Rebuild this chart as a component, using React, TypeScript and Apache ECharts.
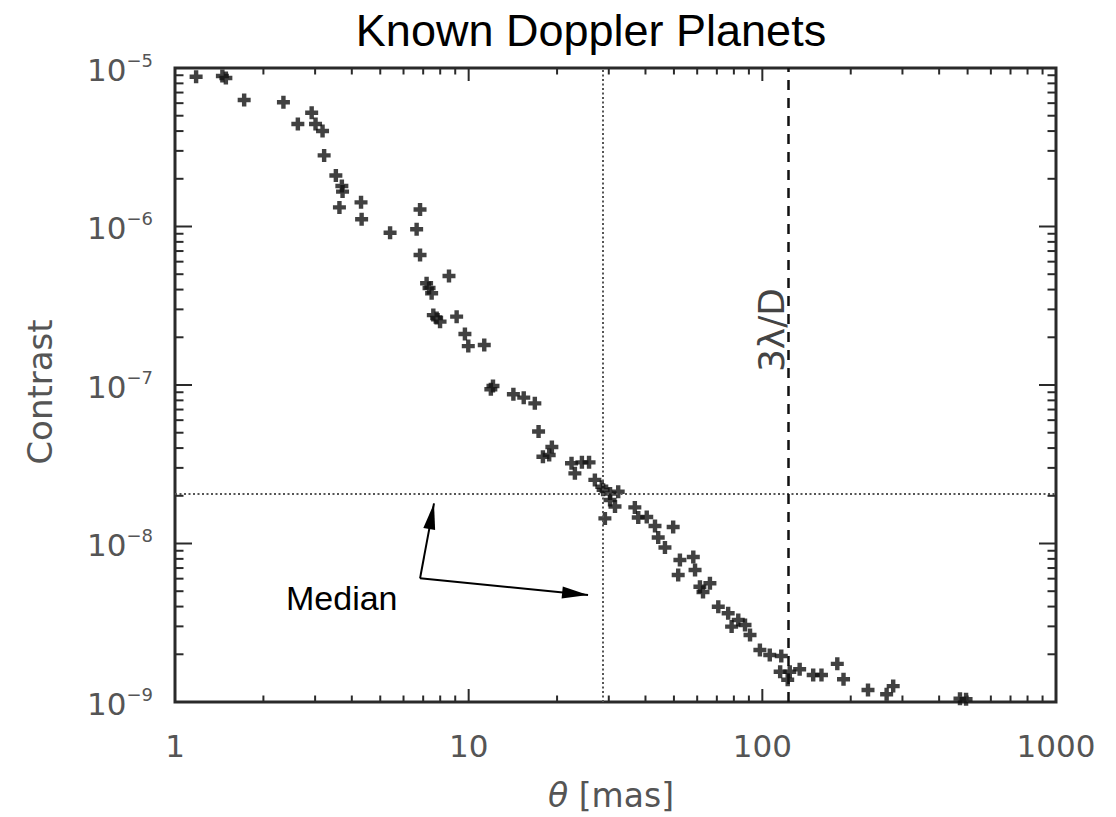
import React, { useEffect, useRef } from "react";
import * as echarts from "echarts";

// Planet separation θ [mas]
const theta = [
  1.18, 1.45, 1.49, 1.72, 2.34, 2.92, 2.62, 3.01, 3.18, 3.22,
  3.53, 3.70, 3.72, 3.63, 4.30, 4.32, 5.40, 6.65, 6.83, 6.83,
  8.57, 7.19, 7.33, 7.48, 7.58, 7.78, 7.99, 9.10, 9.71, 9.97,
  11.3, 12.1, 11.9, 14.2, 15.4, 16.8, 17.3, 19.2, 17.9, 18.8,
  22.4, 24.3, 25.7, 23.0, 26.9, 28.4, 30.3, 28.7, 32.3, 30.3,
  31.5, 29.1, 36.8, 37.8, 40.4, 43.1, 49.7, 44.2, 46.6, 52.4,
  58.2, 51.7, 59.0, 61.3, 66.3, 62.8, 70.8, 76.5, 82.8, 78.6,
  87.3, 90.8, 98.1, 106, 116, 115, 124, 122, 134, 149,
  159, 180, 189, 229, 265, 279, 471, 494,
];
// Planet/star contrast
const contrast = [
  8.81e-6, 8.9e-6, 8.65e-6, 6.28e-6, 6.08e-6, 5.22e-6, 4.43e-6, 4.43e-6, 4.0e-6, 2.81e-6,
  2.1e-6, 1.8e-6, 1.66e-6, 1.32e-6, 1.42e-6, 1.11e-6, 9.14e-7, 9.6e-7, 1.28e-6, 6.61e-7,
  4.87e-7, 4.38e-7, 4.09e-7, 3.79e-7, 2.76e-7, 2.65e-7, 2.51e-7, 2.7e-7, 2.1e-7, 1.76e-7,
  1.79e-7, 9.86e-8, 9.4e-8, 8.74e-8, 8.32e-8, 7.66e-8, 5.09e-8, 4.06e-8, 3.53e-8, 3.62e-8,
  3.21e-8, 3.25e-8, 3.25e-8, 2.77e-8, 2.52e-8, 2.28e-8, 2.07e-8, 2.18e-8, 2.12e-8, 1.88e-8,
  1.71e-8, 1.44e-8, 1.69e-8, 1.46e-8, 1.47e-8, 1.29e-8, 1.27e-8, 1.09e-8, 9.44e-9, 7.87e-9,
  8.22e-9, 6.33e-9, 6.8e-9, 5.34e-9, 5.61e-9, 4.94e-9, 3.99e-9, 3.63e-9, 3.29e-9, 2.99e-9,
  3.06e-9, 2.65e-9, 2.13e-9, 1.98e-9, 1.95e-9, 1.55e-9, 1.55e-9, 1.38e-9, 1.61e-9, 1.48e-9,
  1.48e-9, 1.74e-9, 1.39e-9, 1.19e-9, 1.12e-9, 1.26e-9, 1.05e-9, 1.04e-9,
];

const medianTheta = 28.6;
const medianContrast = 2.07e-8;
const threeLambdaOverD = 123;

const xMin = 1;
const xMax = 1000;
const yMin = 1e-9;
const yMax = 1e-5;

const xDecades = [1, 10, 100];
const yDecades = [1e-9, 1e-8, 1e-7, 1e-6];
const mantissas = [1, 2, 3, 4, 5, 6, 7, 8, 9];
const xTickValues = [...xDecades.flatMap((d) => mantissas.map((m) => m * d)), 1000];
const yTickValues = [...yDecades.flatMap((d) => mantissas.map((m) => m * d)), 1e-5];

// Annotation arrows ("Median"): start point and the two tips, in data units
const arrowStart = [6.83, 6.03e-9];
const arrowTipUp = [7.62, 1.79e-8];
const arrowTipRight = [25.5, 4.73e-9];

const GREY = "#555";
const HERSHEY = "DejaVu Sans";

const isMajor = (v: number) => {
  const l = Math.log10(v);
  return Math.abs(l - Math.round(l)) < 1e-6;
};

export default function App() {
  const ref = useRef<HTMLDivElement>(null);

  useEffect(() => {
    if (!ref.current) return;
    const chart = echarts.init(ref.current, null, { renderer: "svg" });

    const tickLine = (x1: number, y1: number, x2: number, y2: number) => ({
      type: "line",
      shape: { x1, y1, x2, y2 },
      style: { stroke: "#2a2a2a", lineWidth: 2 },
    });

    const arrowHead = { symbol: "triangle", symbolSize: [12, 26], symbolOffset: [0, 13] };
    const medianStyle = { type: [2, 2.5], color: "#555", width: 2 };

    const option: any = {
      animation: false,
      backgroundColor: "#fff",
      grid: {
        left: 175,
        right: 60,
        top: 68,
        bottom: 115,
        show: true,
        borderColor: "#2a2a2a",
        borderWidth: 3,
        backgroundColor: "transparent",
        containLabel: false,
        outerBoundsMode: "none",
      },
      xAxis: {
        type: "log",
        logBase: 10,
        min: xMin,
        max: xMax,
        axisLine: { show: false },
        axisTick: { show: false },
        splitLine: { show: false },
        axisLabel: {
          margin: 28,
          color: GREY,
          fontFamily: HERSHEY,
          fontSize: 31,
          formatter: (v: number) => String(Math.round(v)),
        },
      },
      yAxis: {
        type: "log",
        logBase: 10,
        min: yMin,
        max: yMax,
        axisLine: { show: false },
        axisTick: { show: false },
        splitLine: { show: false },
        axisLabel: {
          margin: 22,
          color: GREY,
          fontFamily: HERSHEY,
          formatter: (v: number) => {
            const e = Math.round(Math.log10(v));
            return "{b|10}{s|\u2212" + Math.abs(e) + "}";
          },
          rich: {
            b: { fontSize: 31, fontFamily: HERSHEY, color: GREY, verticalAlign: "bottom" },
            s: {
              fontSize: 18,
              fontFamily: HERSHEY,
              color: GREY,
              verticalAlign: "bottom",
              padding: [0, 0, 16, 0],
            },
          },
        },
      },
      series: [
        {
          type: "scatter",
          data: theta.map((t, i) => [t, contrast[i]]),
          symbol: "path://M3.3,0H6.7V3.3H10V6.7H6.7V10H3.3V6.7H0V3.3H3.3Z",
          symbolSize: 13,
          itemStyle: { color: "#111" },
          z: 4,
          markLine: {
            silent: true,
            symbol: "none",
            label: { show: false },
            data: [
              [
                { coord: [medianTheta, yMin], symbol: "none", lineStyle: medianStyle },
                { coord: [medianTheta, yMax], symbol: "none" },
              ],
              [
                { coord: [xMin, medianContrast], symbol: "none", lineStyle: medianStyle },
                { coord: [xMax, medianContrast], symbol: "none" },
              ],
              [
                {
                  coord: [threeLambdaOverD, yMin],
                  symbol: "none",
                  lineStyle: { type: [10, 8], color: "#111", width: 2.5 },
                },
                { coord: [threeLambdaOverD, yMax], symbol: "none" },
              ],
              [
                { coord: arrowStart, symbol: "none" },
                { coord: arrowTipUp, ...arrowHead },
              ],
              [
                { coord: arrowStart, symbol: "none" },
                { coord: arrowTipRight, ...arrowHead },
              ],
            ],
            lineStyle: { color: "#000", width: 2, type: "solid" },
          },
        },
        {
          type: "custom",
          silent: true,
          z: 5,
          data: xTickValues.map((v) => [v, 1e-7]),
          renderItem: (params: any, api: any) => {
            const cs = params.coordSys;
            const v = api.value(0);
            const px = api.coord([v, 1e-7])[0];
            const len = isMajor(v) ? 13 : 6.5;
            const bottom = cs.y + cs.height;
            return {
              type: "group",
              children: [
                tickLine(px, bottom, px, bottom - len),
                tickLine(px, cs.y, px, cs.y + len),
              ],
            };
          },
        },
        {
          type: "custom",
          silent: true,
          z: 5,
          data: yTickValues.map((v) => [10, v]),
          renderItem: (params: any, api: any) => {
            const cs = params.coordSys;
            const v = api.value(1);
            const py = api.coord([10, v])[1];
            const len = isMajor(v) ? 17 : 8.5;
            const right = cs.x + cs.width;
            return {
              type: "group",
              children: [
                tickLine(cs.x, py, cs.x + len, py),
                tickLine(right, py, right - len, py),
              ],
            };
          },
        },
      ],
      graphic: [
        {
          type: "text",
          x: 591,
          y: 30,
          style: {
            text: "Known Doppler Planets",
            fontFamily: "Liberation Sans",
            fontSize: 45,
            fill: "#000",
            textAlign: "center",
            textVerticalAlign: "middle",
          },
        },
        {
          type: "text",
          x: 40,
          y: 392,
          rotation: Math.PI / 2,
          style: {
            text: "Contrast",
            fontFamily: HERSHEY,
            fontSize: 34,
            fill: GREY,
            textAlign: "center",
            textVerticalAlign: "middle",
          },
        },
        {
          type: "text",
          x: 611,
          y: 795,
          style: {
            text: "{i|\u03b8} [mas]",
            fontFamily: HERSHEY,
            fontSize: 33,
            fill: GREY,
            textAlign: "center",
            textVerticalAlign: "middle",
            rich: {
              i: { fontStyle: "italic", fontFamily: HERSHEY, fontSize: 33, fill: GREY },
            },
          },
        },
        {
          type: "text",
          x: 771,
          y: 330,
          rotation: Math.PI / 2,
          style: {
            text: "3\u03bb/D",
            fontFamily: HERSHEY,
            fontSize: 36,
            fill: "#444",
            textAlign: "center",
            textVerticalAlign: "middle",
          },
        },
        {
          type: "text",
          x: 286,
          y: 598,
          style: {
            text: "Median",
            fontFamily: "Liberation Sans",
            fontSize: 34,
            fill: "#000",
            textAlign: "left",
            textVerticalAlign: "middle",
          },
        },
      ],
    };

    chart.setOption(option);
    return () => chart.dispose();
  }, []);

  return (
    <div
      ref={ref}
      style={{ position: "fixed", left: 0, top: 0, width: 1116, height: 817, background: "#fff" }}
    />
  );
}
